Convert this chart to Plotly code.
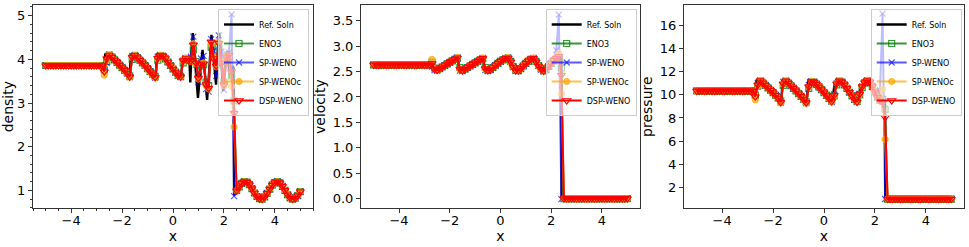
import plotly.graph_objects as go

# ---------------- data ----------------
x = [-5.0, -4.9, -4.8, -4.7, -4.6, -4.5, -4.4, -4.3, -4.2, -4.1,
     -4.0, -3.9, -3.8, -3.7, -3.6, -3.5, -3.4, -3.3, -3.2, -3.1,
     -3.0, -2.9, -2.8, -2.7, -2.6, -2.5, -2.4, -2.3, -2.2, -2.1,
     -2.0, -1.9, -1.8, -1.7, -1.6, -1.5, -1.4, -1.3, -1.2, -1.1,
     -1.0, -0.9, -0.8, -0.7, -0.6, -0.5, -0.4, -0.3, -0.2, -0.1,
     0.0, 0.1, 0.2, 0.3, 0.4, 0.5, 0.6, 0.7, 0.8, 0.9,
     1.0, 1.1, 1.2, 1.3, 1.4, 1.5, 1.6, 1.7, 1.8, 1.9,
     2.0, 2.1, 2.2, 2.3, 2.4, 2.5, 2.6, 2.7, 2.8, 2.9,
     3.0, 3.1, 3.2, 3.3, 3.4, 3.5, 3.6, 3.7, 3.8, 3.9,
     4.0, 4.1, 4.2, 4.3, 4.4, 4.5, 4.6, 4.7, 4.8, 4.9,
     5.0]

# density
ref_x_rho = [-5.0, -2.70, -2.66, -1.70, -1.66, -0.68, -0.63, -0.45, 0.32, 0.37,
             0.50, 0.60, 0.64, 0.68, 0.72, 0.78, 0.86, 0.98, 1.07, 1.16,
             1.25, 1.34, 1.43, 1.51, 1.60, 1.69, 1.75, 1.82, 1.90, 1.97,
             2.04, 2.12, 2.20, 2.27, 2.34, 2.39, 2.40, 2.5, 2.6, 2.7,
             2.8, 2.9, 3.0, 3.1, 3.2, 3.3, 3.4, 3.5, 3.6, 3.7,
             3.8, 3.9, 4.0, 4.1, 4.2, 4.3, 4.4, 4.5, 4.6, 4.7,
             4.8, 4.9, 5.0]
ref_rho = [3.857, 3.857, 4.13, 3.58, 4.12, 3.57, 4.10, 4.10, 3.60, 3.98,
           4.05, 3.98, 4.05, 3.47, 4.10, 4.60, 4.00, 3.12, 3.70, 4.22,
           3.70, 3.07, 3.80, 4.56, 4.00, 3.42, 4.10, 4.61, 3.90, 3.27,
           3.80, 4.18, 3.80, 3.55, 3.85, 3.80, 0.90, 0.99, 1.08, 1.16,
           1.20, 1.19, 1.13, 1.04, 0.94, 0.86, 0.81, 0.80, 0.85, 0.93,
           1.03, 1.12, 1.18, 1.20, 1.17, 1.09, 1.00, 0.90, 0.83, 0.80,
           0.82, 0.88, 0.97]

rho_eno3 = [3.86, 3.86, 3.86, 3.86, 3.86, 3.86, 3.86, 3.86, 3.86, 3.86,
            3.86, 3.86, 3.86, 3.86, 3.86, 3.86, 3.86, 3.86, 3.86, 3.86,
            3.86, 3.86, 3.86, 3.76, 3.95, 4.08, 4.05, 3.99, 3.93, 3.87,
            3.81, 3.75, 3.69, 3.62, 4.00, 4.08, 4.04, 3.98, 3.92, 3.86,
            3.79, 3.72, 3.66, 3.61, 3.98, 4.08, 4.07, 4.01, 3.94, 3.86,
            3.78, 3.71, 3.64, 3.61, 3.92, 4.01, 3.99, 3.97, 4.22, 3.95,
            3.62, 3.85, 3.88, 3.48, 3.40, 4.28, 4.05, 3.88, 4.28, 3.95,
            3.48, 4.00, 4.08, 3.62, 3.05, 1.00, 1.08, 1.16, 1.20, 1.19,
            1.13, 1.04, 0.94, 0.86, 0.81, 0.80, 0.85, 0.93, 1.03, 1.12,
            1.18, 1.20, 1.17, 1.09, 1.00, 0.90, 0.83, 0.80, 0.82, 0.88,
            0.97]
rho_spweno = [3.86, 3.86, 3.86, 3.86, 3.86, 3.86, 3.86, 3.86, 3.86, 3.86,
              3.86, 3.86, 3.86, 3.86, 3.86, 3.86, 3.86, 3.86, 3.86, 3.86,
              3.86, 3.86, 3.86, 3.84, 3.92, 4.12, 4.05, 3.99, 3.93, 3.87,
              3.81, 3.75, 3.68, 3.59, 4.08, 4.10, 4.04, 3.98, 3.92, 3.86,
              3.79, 3.72, 3.65, 3.58, 4.06, 4.10, 4.08, 4.02, 3.94, 3.86,
              3.78, 3.70, 3.63, 3.59, 3.97, 4.03, 4.00, 4.06, 4.52, 3.88,
              3.48, 4.02, 4.08, 3.32, 3.26, 4.46, 4.20, 3.62, 4.55, 4.18,
              3.30, 4.12, 4.16, 5.03, 0.87, 0.99, 1.08, 1.16, 1.20, 1.19,
              1.13, 1.04, 0.94, 0.86, 0.81, 0.80, 0.85, 0.93, 1.03, 1.12,
              1.18, 1.20, 1.17, 1.09, 1.00, 0.90, 0.83, 0.80, 0.82, 0.88,
              0.97]
rho_spwenoc = [3.86, 3.86, 3.86, 3.86, 3.86, 3.86, 3.86, 3.86, 3.86, 3.86,
               3.86, 3.86, 3.86, 3.86, 3.86, 3.86, 3.86, 3.86, 3.86, 3.86,
               3.86, 3.86, 3.85, 3.64, 3.98, 4.11, 4.06, 3.99, 3.93, 3.87,
               3.81, 3.74, 3.67, 3.59, 4.04, 4.10, 4.04, 3.98, 3.92, 3.85,
               3.78, 3.71, 3.64, 3.58, 4.01, 4.10, 4.08, 4.02, 3.94, 3.86,
               3.78, 3.70, 3.63, 3.59, 3.95, 4.03, 3.99, 3.95, 4.36, 3.90,
               3.55, 3.90, 3.92, 3.40, 3.32, 4.35, 4.05, 3.83, 4.40, 3.95,
               3.40, 4.08, 4.08, 3.38, 2.45, 0.99, 1.08, 1.16, 1.20, 1.19,
               1.13, 1.04, 0.94, 0.86, 0.81, 0.80, 0.85, 0.93, 1.03, 1.12,
               1.18, 1.20, 1.17, 1.09, 1.00, 0.90, 0.83, 0.80, 0.82, 0.88,
               0.97]
rho_dspweno = [3.86, 3.86, 3.86, 3.86, 3.86, 3.86, 3.86, 3.86, 3.86, 3.86,
               3.86, 3.86, 3.86, 3.86, 3.86, 3.86, 3.86, 3.86, 3.86, 3.86,
               3.86, 3.86, 3.86, 3.72, 4.02, 4.10, 4.05, 3.99, 3.93, 3.87,
               3.81, 3.75, 3.68, 3.60, 4.05, 4.09, 4.04, 3.98, 3.92, 3.86,
               3.79, 3.72, 3.65, 3.59, 4.03, 4.09, 4.08, 4.02, 3.94, 3.86,
               3.78, 3.70, 3.63, 3.60, 3.97, 4.02, 3.98, 3.96, 4.33, 3.92,
               3.57, 3.88, 3.90, 3.42, 3.34, 4.40, 4.02, 3.85, 4.37, 3.92,
               3.42, 4.06, 4.10, 3.72, 2.77, 0.99, 1.08, 1.16, 1.20, 1.19,
               1.13, 1.04, 0.94, 0.86, 0.81, 0.80, 0.85, 0.93, 1.03, 1.12,
               1.18, 1.20, 1.17, 1.09, 1.00, 0.90, 0.83, 0.80, 0.82, 0.88,
               0.97]

# velocity
ref_x_u = [-5.0, -2.70, -2.64, -1.68, -1.63, -0.68, -0.62, 0.32, 0.66, 1.30,
           1.70, 2.36, 2.40, 2.41, 5.0]
ref_u = [2.629, 2.629, 2.52, 2.78, 2.52, 2.77, 2.52, 2.77, 2.51, 2.77,
         2.50, 2.80, 2.80, 0.0, 0.0]

u_eno3 = [2.63, 2.63, 2.63, 2.63, 2.63, 2.63, 2.63, 2.63, 2.63, 2.63,
          2.63, 2.63, 2.63, 2.63, 2.63, 2.63, 2.63, 2.63, 2.63, 2.63,
          2.63, 2.63, 2.63, 2.68, 2.57, 2.54, 2.56, 2.59, 2.62, 2.65,
          2.68, 2.71, 2.74, 2.76, 2.58, 2.53, 2.55, 2.58, 2.61, 2.64,
          2.67, 2.70, 2.73, 2.75, 2.58, 2.53, 2.54, 2.58, 2.62, 2.66,
          2.70, 2.73, 2.75, 2.76, 2.70, 2.60, 2.53, 2.52, 2.56, 2.61,
          2.66, 2.70, 2.74, 2.75, 2.70, 2.62, 2.56, 2.52, 2.54, 2.60,
          2.66, 2.71, 2.75, 2.78, 2.57, 0.00, 0.00, 0.00, 0.00, 0.00,
          0.00, 0.00, 0.00, 0.00, 0.00, 0.00, 0.00, 0.00, 0.00, 0.00,
          0.00, 0.00, 0.00, 0.00, 0.00, 0.00, 0.00, 0.00, 0.00, 0.00,
          0.00]
u_spweno = [2.63, 2.63, 2.63, 2.63, 2.63, 2.63, 2.63, 2.63, 2.63, 2.63,
            2.63, 2.63, 2.63, 2.63, 2.63, 2.63, 2.63, 2.63, 2.63, 2.63,
            2.63, 2.63, 2.63, 2.60, 2.53, 2.52, 2.56, 2.59, 2.62, 2.65,
            2.68, 2.71, 2.74, 2.78, 2.52, 2.51, 2.55, 2.58, 2.61, 2.64,
            2.67, 2.70, 2.73, 2.77, 2.53, 2.51, 2.54, 2.58, 2.62, 2.66,
            2.70, 2.73, 2.76, 2.78, 2.70, 2.59, 2.51, 2.51, 2.56, 2.61,
            2.66, 2.71, 2.75, 2.77, 2.69, 2.61, 2.54, 2.50, 2.54, 2.60,
            2.66, 2.73, 2.92, 3.62, -0.01, 0.00, 0.00, 0.00, 0.00, 0.00,
            0.00, 0.00, 0.00, 0.00, 0.00, 0.00, 0.00, 0.00, 0.00, 0.00,
            0.00, 0.00, 0.00, 0.00, 0.00, 0.00, 0.00, 0.00, 0.00, 0.00,
            0.00]
u_spwenoc = [2.63, 2.63, 2.63, 2.63, 2.63, 2.63, 2.63, 2.63, 2.63, 2.63,
             2.63, 2.63, 2.63, 2.63, 2.63, 2.63, 2.63, 2.63, 2.63, 2.63,
             2.63, 2.63, 2.64, 2.74, 2.56, 2.52, 2.56, 2.59, 2.62, 2.65,
             2.68, 2.71, 2.74, 2.78, 2.54, 2.52, 2.55, 2.58, 2.61, 2.64,
             2.67, 2.70, 2.73, 2.77, 2.55, 2.52, 2.54, 2.58, 2.62, 2.66,
             2.70, 2.73, 2.76, 2.78, 2.68, 2.58, 2.52, 2.52, 2.56, 2.61,
             2.66, 2.71, 2.75, 2.77, 2.68, 2.60, 2.54, 2.51, 2.54, 2.60,
             2.66, 2.72, 2.77, 2.86, 2.07, 0.00, 0.00, 0.00, 0.00, 0.00,
             0.00, 0.00, 0.00, 0.00, 0.00, 0.00, 0.00, 0.00, 0.00, 0.00,
             0.00, 0.00, 0.00, 0.00, 0.00, 0.00, 0.00, 0.00, 0.00, 0.00,
             0.00]
u_dspweno = [2.63, 2.63, 2.63, 2.63, 2.63, 2.63, 2.63, 2.63, 2.63, 2.63,
             2.63, 2.63, 2.63, 2.63, 2.63, 2.63, 2.63, 2.63, 2.63, 2.63,
             2.63, 2.63, 2.63, 2.66, 2.55, 2.53, 2.56, 2.59, 2.62, 2.65,
             2.68, 2.71, 2.74, 2.77, 2.55, 2.52, 2.55, 2.58, 2.61, 2.64,
             2.67, 2.70, 2.73, 2.76, 2.56, 2.52, 2.54, 2.58, 2.62, 2.66,
             2.70, 2.73, 2.76, 2.77, 2.69, 2.59, 2.52, 2.52, 2.56, 2.61,
             2.66, 2.71, 2.75, 2.76, 2.69, 2.61, 2.55, 2.51, 2.54, 2.60,
             2.66, 2.72, 2.76, 2.80, 2.43, 0.00, 0.00, 0.00, 0.00, 0.00,
             0.00, 0.00, 0.00, 0.00, 0.00, 0.00, 0.00, 0.00, 0.00, 0.00,
             0.00, 0.00, 0.00, 0.00, 0.00, 0.00, 0.00, 0.00, 0.00, 0.00,
             0.00]

# pressure
ref_x_p = [-5.0, -2.70, -2.64, -1.68, -1.63, -0.68, -0.62, 0.33, 0.42, 0.60,
           1.32, 1.42, 1.72, 2.28, 2.40, 2.41, 5.0]
ref_p = [10.333, 10.333, 11.30, 9.25, 11.25, 9.25, 11.20, 9.38, 11.05, 11.25,
         9.35, 10.50, 11.25, 9.40, 9.45, 1.0, 1.0]

p_eno3 = [10.33, 10.33, 10.33, 10.33, 10.33, 10.33, 10.33, 10.33, 10.33, 10.33,
          10.33, 10.33, 10.33, 10.33, 10.33, 10.33, 10.33, 10.33, 10.33, 10.33,
          10.33, 10.33, 10.33, 9.95, 10.75, 11.15, 11.00, 10.81, 10.60, 10.39,
          10.18, 9.96, 9.74, 9.45, 10.80, 11.15, 11.00, 10.78, 10.56, 10.33,
          10.10, 9.86, 9.62, 9.40, 10.55, 11.10, 11.10, 10.92, 10.68, 10.44,
          10.19, 9.94, 9.68, 9.48, 9.90, 10.85, 11.15, 11.10, 10.85, 10.55,
          10.22, 9.91, 9.60, 9.42, 10.00, 10.62, 11.00, 11.18, 11.08, 10.72,
          10.25, 9.82, 9.52, 9.60, 8.75, 1.00, 1.00, 1.00, 1.00, 1.00,
          1.00, 1.00, 1.00, 1.00, 1.00, 1.00, 1.00, 1.00, 1.00, 1.00,
          1.00, 1.00, 1.00, 1.00, 1.00, 1.00, 1.00, 1.00, 1.00, 1.00,
          1.00]
p_spweno = [10.33, 10.33, 10.33, 10.33, 10.33, 10.33, 10.33, 10.33, 10.33, 10.33,
            10.33, 10.33, 10.33, 10.33, 10.33, 10.33, 10.33, 10.33, 10.33, 10.33,
            10.33, 10.33, 10.33, 10.10, 11.00, 11.25, 11.03, 10.81, 10.60, 10.39,
            10.18, 9.96, 9.72, 9.30, 11.10, 11.22, 11.00, 10.78, 10.56, 10.33,
            10.10, 9.86, 9.60, 9.28, 10.85, 11.18, 11.12, 10.92, 10.68, 10.44,
            10.19, 9.93, 9.66, 9.40, 10.05, 11.00, 11.22, 11.12, 10.85, 10.55,
            10.22, 9.90, 9.58, 9.36, 10.10, 10.75, 11.08, 11.24, 11.10, 10.72,
            10.25, 9.80, 10.40, 17.00, 1.00, 1.00, 1.00, 1.00, 1.00, 1.00,
            1.00, 1.00, 1.00, 1.00, 1.00, 1.00, 1.00, 1.00, 1.00, 1.00,
            1.00, 1.00, 1.00, 1.00, 1.00, 1.00, 1.00, 1.00, 1.00, 1.00,
            1.00]
p_spwenoc = [10.33, 10.33, 10.33, 10.33, 10.33, 10.33, 10.33, 10.33, 10.33, 10.33,
             10.33, 10.33, 10.33, 10.33, 10.33, 10.33, 10.33, 10.33, 10.33, 10.33,
             10.33, 10.33, 10.30, 9.55, 10.75, 11.25, 11.03, 10.81, 10.60, 10.39,
             10.18, 9.95, 9.70, 9.30, 10.90, 11.22, 11.00, 10.78, 10.56, 10.33,
             10.10, 9.85, 9.58, 9.28, 10.65, 11.18, 11.12, 10.92, 10.68, 10.44,
             10.19, 9.93, 9.65, 9.38, 9.90, 10.98, 11.22, 11.12, 10.85, 10.55,
             10.22, 9.90, 9.57, 9.35, 10.00, 10.72, 11.08, 11.24, 11.10, 10.72,
             10.25, 9.80, 9.50, 10.50, 6.16, 1.00, 1.00, 1.00, 1.00, 1.00,
             1.00, 1.00, 1.00, 1.00, 1.00, 1.00, 1.00, 1.00, 1.00, 1.00,
             1.00, 1.00, 1.00, 1.00, 1.00, 1.00, 1.00, 1.00, 1.00, 1.00,
             1.00]
p_dspweno = [10.33, 10.33, 10.33, 10.33, 10.33, 10.33, 10.33, 10.33, 10.33, 10.33,
             10.33, 10.33, 10.33, 10.33, 10.33, 10.33, 10.33, 10.33, 10.33, 10.33,
             10.33, 10.33, 10.33, 9.85, 10.85, 11.22, 11.02, 10.81, 10.60, 10.39,
             10.18, 9.96, 9.72, 9.35, 10.95, 11.20, 11.00, 10.78, 10.56, 10.33,
             10.10, 9.86, 9.60, 9.32, 10.70, 11.15, 11.12, 10.92, 10.68, 10.44,
             10.19, 9.93, 9.66, 9.42, 9.95, 10.95, 11.20, 11.12, 10.85, 10.55,
             10.22, 9.90, 9.58, 9.38, 10.05, 10.70, 11.05, 11.22, 11.10, 10.72,
             10.25, 9.80, 9.48, 9.35, 8.06, 1.00, 1.00, 1.00, 1.00, 1.00,
             1.00, 1.00, 1.00, 1.00, 1.00, 1.00, 1.00, 1.00, 1.00, 1.00,
             1.00, 1.00, 1.00, 1.00, 1.00, 1.00, 1.00, 1.00, 1.00, 1.00,
             1.00]

scheme_names = ["ENO3", "SP-WENO", "SP-WENOc", "DSP-WENO"]
y_titles = ["density", "velocity", "pressure"]

# ---------------- figure ----------------
FONT = "DejaVu Sans"
AX = "#333333"
W, H = 969, 247

panels = [
    (ref_x_rho, ref_rho, [rho_eno3, rho_spweno, rho_spwenoc, rho_dspweno]),
    (ref_x_u, ref_u, [u_eno3, u_spweno, u_spwenoc, u_dspweno]),
    (ref_x_p, ref_p, [p_eno3, p_spweno, p_spwenoc, p_dspweno]),
]

styles = [
    dict(color="rgba(0,128,0,0.8)", symbol="square-open", size=6, lw=1.8),
    dict(color="rgba(0,0,255,0.65)", symbol="x-thin", size=6, lw=2.0),
    dict(color="rgba(255,165,0,0.7)", symbol="circle", size=6, lw=2.0),
    dict(color="rgba(255,0,0,1)", symbol="triangle-down-open", size=7, lw=2.0),
]

fig = go.Figure()
for k, (rx, ry, series) in enumerate(panels, start=1):
    xa = "x" if k == 1 else f"x{k}"
    ya = "y" if k == 1 else f"y{k}"
    leg = "legend" if k == 1 else f"legend{k}"
    fig.add_trace(go.Scatter(x=rx, y=ry, mode="lines", name="Ref. Soln",
                             line=dict(color="black", width=2.4),
                             xaxis=xa, yaxis=ya, legend=leg))
    for name, vals, st in zip(scheme_names, series, styles):
        fig.add_trace(go.Scatter(
            x=x, y=vals, mode="lines+markers", name=name,
            line=dict(color=st["color"], width=st["lw"]),
            marker=dict(symbol=st["symbol"], size=st["size"], color=st["color"],
                        line=dict(width=1.2, color=st["color"])),
            xaxis=xa, yaxis=ya, legend=leg))

x_domains = [[33 / W, 313 / W], [361 / W, 640 / W], [684 / W, 964 / W]]
y_domain = [1 - 208.3 / H, 1 - 5 / H]
y_ranges = [[0.59, 5.245], [-0.19, 3.81], [0.2, 17.75]]
y_dticks = [1, 0.5, 2]
legend_right = [309 / W, 636.7 / W, 961.7 / W]

common = dict(showline=True, linecolor=AX, linewidth=1, mirror=True,
              ticks="outside", ticklen=4, tickwidth=1, tickcolor=AX,
              showgrid=False, zeroline=False, automargin=False,
              tickfont=dict(family=FONT, size=13, color="black"))

layout = dict(width=W, height=H, margin=dict(l=0, r=0, t=0, b=0),
              paper_bgcolor="white", plot_bgcolor="white",
              font=dict(family=FONT, size=13, color="black"))

for k in range(1, 4):
    xs = "xaxis" if k == 1 else f"xaxis{k}"
    ys = "yaxis" if k == 1 else f"yaxis{k}"
    xa = dict(common, domain=x_domains[k - 1], range=[-5.5, 5.5],
              tick0=0, dtick=2, anchor="y" if k == 1 else f"y{k}",
              ticklabelstandoff=-4,
              title=dict(text="x", standoff=0, font=dict(family=FONT, size=14)))
    ya = dict(common, domain=y_domain, range=y_ranges[k - 1],
              tick0=0, dtick=y_dticks[k - 1], anchor="x" if k == 1 else f"x{k}",
              title=dict(text=y_titles[k - 1], standoff=3, font=dict(family=FONT, size=14)))
    if k == 2:
        ya["tickformat"] = ".1f"
    if k == 1:
        xa["minor"] = dict(dtick=0.5, tick0=0, ticks="outside", ticklen=2, tickcolor=AX)
        ya["minor"] = dict(dtick=0.2, tick0=0, ticks="outside", ticklen=2, tickcolor=AX)
    layout[xs] = xa
    layout[ys] = ya
    lg = "legend" if k == 1 else f"legend{k}"
    layout[lg] = dict(x=legend_right[k - 1], y=1 - 9 / H, xanchor="right", yanchor="top",
                      bgcolor="rgba(255,255,255,0.6)", bordercolor="#cccccc", borderwidth=1,
                      font=dict(family=FONT, size=8, color="black"),
                      itemwidth=30, tracegroupgap=0)

fig.update_layout(**layout)
fig.write_html("out.html", config={"displayModeBar": False},
               post_script="document.body.style.margin='0px';")
